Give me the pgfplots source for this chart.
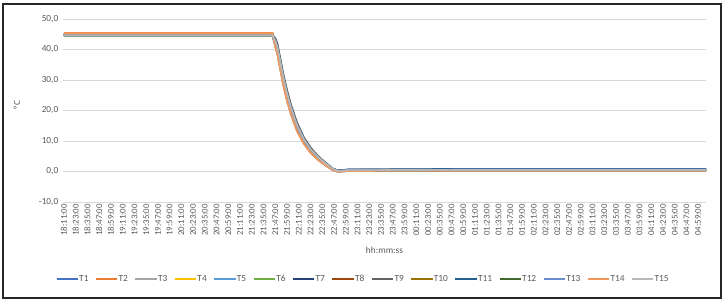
\documentclass[border=0pt]{standalone}
\usepackage{pgfplots}
\usepackage{pgfplotstable}
\pgfplotsset{compat=1.18}
\usepackage{fontspec}
\setmainfont{Carlito}
\definecolor{txt}{HTML}{595959}
\definecolor{grd}{HTML}{D9D9D9}
\definecolor{c1}{HTML}{4472C4}
\definecolor{c2}{HTML}{ED7D31}
\definecolor{c3}{HTML}{A5A5A5}
\definecolor{c4}{HTML}{FFC000}
\definecolor{c5}{HTML}{5B9BD5}
\definecolor{c6}{HTML}{70AD47}
\definecolor{c7}{HTML}{264478}
\definecolor{c8}{HTML}{9E480E}
\definecolor{c9}{HTML}{636363}
\definecolor{c10}{HTML}{997300}
\definecolor{c11}{HTML}{255E91}
\definecolor{c12}{HTML}{43682B}
\definecolor{c13}{HTML}{698ED0}
\definecolor{c14}{HTML}{F1975A}
\definecolor{c15}{HTML}{B7B7B7}
\pgfplotstableread{
t   T1   T2   T3   T4   T5   T6   T7   T8   T9   T10  T11  T12  T13  T14  T15
0   45.0 45.4 44.7 44.8 44.5 44.6 44.8 45.1 44.7 44.9 44.8 44.6 44.7 45.3 44.6
60  45.0 45.4 44.7 44.8 44.5 44.6 44.8 45.1 44.7 44.9 44.8 44.6 44.7 45.3 44.6
120 45.0 45.4 44.7 44.8 44.5 44.6 44.8 45.1 44.7 44.9 44.8 44.6 44.7 45.3 44.6
180 45.0 45.4 44.7 44.8 44.5 44.6 44.8 45.1 44.7 44.9 44.8 44.6 44.7 45.3 44.6
213 45.0 45.4 44.7 44.8 44.5 44.6 44.8 45.1 44.7 44.9 44.8 44.6 44.7 45.3 44.6
216 42.0 41.2 42.4 41.6 41.0 42.2 43.2 41.8 43.6 42.6 43.0 42.3 41.4 40.8 42.8
218 40.0 39.0 40.5 39.5 38.8 40.3 41.5 39.7 42.0 40.8 41.2 40.4 39.2 38.5 41.0
221 35.0 34.0 35.5 34.5 33.8 35.3 36.5 34.7 37.0 35.8 36.2 35.4 34.2 33.5 36.0
224 30.0 29.0 30.5 29.5 28.8 30.3 31.5 29.7 32.0 30.8 31.2 30.4 29.2 28.5 31.0
228 24.5 23.5 25.0 24.0 23.3 24.8 26.0 24.2 26.5 25.3 25.7 24.9 23.7 23.0 25.5
232 20.0 19.1 20.5 19.6 18.9 20.3 21.4 19.7 21.8 20.7 21.1 20.4 19.3 18.7 20.9
238 14.5 13.7 14.9 14.1 13.5 14.7 15.7 14.3 16.1 15.1 15.5 14.8 13.9 13.3 15.3
245 10.0 9.4  10.3 9.7  9.3  10.2 10.9 9.8  11.2 10.5 10.7 10.2 9.5  9.1  10.6
252 6.8  6.3  7.1  6.6  6.2  7.0  7.6  6.7  7.8  7.2  7.4  7.0  6.4  6.1  7.3
260 4.2  3.9  4.4  4.0  3.8  4.3  4.7  4.1  4.9  4.5  4.6  4.3  3.9  3.7  4.6
268 2.2  2.0  2.3  2.1  1.9  2.3  2.6  2.1  2.7  2.4  2.5  2.3  2.0  1.8  2.5
275 0.6  0.5  0.7  0.5  0.4  0.6  0.8  0.6  0.9  0.7  0.8  0.7  0.5  0.4  0.8
280 0.1  0.0  0.2  0.1  -0.1 0.1  0.3  0.1  0.3  0.2  0.3  0.1  0.0  -0.1 0.2
290 0.4  0.2  0.3  0.5  0.2  0.4  0.6  0.3  0.5  0.4  0.6  0.3  0.5  0.2  0.4
400 0.5  0.3  0.4  0.6  0.2  0.5  0.7  0.4  0.6  0.5  0.8  0.4  0.6  0.3  0.5
520 0.5  0.3  0.4  0.6  0.2  0.5  0.7  0.4  0.6  0.5  0.8  0.4  0.6  0.3  0.5
656 0.5  0.3  0.4  0.6  0.2  0.5  0.7  0.4  0.6  0.5  0.8  0.4  0.6  0.3  0.5
}\data
\begin{document}
\begin{tikzpicture}[x=1pt,y=1pt]
\path[use as bounding box] (-47.25pt,-75.75pt) rectangle ++(544.5pt,227.25pt);
\begin{axis}[
  at={(0,0)}, anchor=south west,
  scale only axis, width=482.25pt, height=137.25pt,
  xmin=-1, xmax=656, ymin=-10, ymax=50,
  ytick={-10,0,...,50},
  xtick={0,12,...,648},
  xticklabels={18:11:00,18:23:00,18:35:00,18:47:00,18:59:00,19:11:00,19:23:00,19:35:00,19:47:00,19:59:00,20:11:00,20:23:00,20:35:00,20:47:00,20:59:00,21:11:00,21:23:00,21:35:00,21:47:00,21:59:00,22:11:00,22:23:00,22:35:00,22:47:00,22:59:00,23:11:00,23:23:00,23:35:00,23:47:00,23:59:00,00:11:00,00:23:00,00:35:00,00:47:00,00:59:00,01:11:00,01:23:00,01:35:00,01:47:00,01:59:00,02:11:00,02:23:00,02:35:00,02:47:00,02:59:00,03:11:00,03:23:00,03:35:00,03:47:00,03:59:00,04:11:00,04:23:00,04:35:00,04:47:00,04:59:00},
  x tick label style={rotate=90, anchor=east, font=\fontsize{6.6}{7}\selectfont, text=txt, inner sep=1.5pt},
  y tick label style={font=\fontsize{7}{8}\selectfont, text=txt},
  yticklabel style={/pgf/number format/.cd, fixed, fixed zerofill, precision=1, use comma, assume math mode=true},
  ymajorgrids, grid style={grd, line width=0.6pt},
  axis line style={draw=none}, major tick length=0pt,
  xlabel={hh:mm:ss}, ylabel={°C},
  xlabel style={at={(axis description cs:0.5,-0.262)}, anchor=center, font=\fontsize{7}{8}\selectfont, text=txt},
  ylabel style={at={(axis description cs:-0.0716,0.53)}, anchor=center, rotate=0, font=\fontsize{7}{8}\selectfont, text=txt},
  legend columns=15,
  legend style={at={(axis description cs:0.467,-0.421)}, anchor=center, draw=none, font=\fontsize{7}{8}\selectfont, text=txt,
    /tikz/every even column/.append style={column sep=2.6pt},
    /tikz/every odd column/.append style={column sep=-2pt}},
  legend image code/.code={\draw[#1, line width=2pt] (0pt,0pt) -- (16pt,0pt);},
  every axis plot/.append style={line width=1.4pt},
]
\addplot[c1, no marks] table[x=t,y=T1]{\data}; \addlegendentry{T1}
\addplot[c2, no marks] table[x=t,y=T2]{\data}; \addlegendentry{T2}
\addplot[c3, no marks] table[x=t,y=T3]{\data}; \addlegendentry{T3}
\addplot[c4, no marks] table[x=t,y=T4]{\data}; \addlegendentry{T4}
\addplot[c5, no marks] table[x=t,y=T5]{\data}; \addlegendentry{T5}
\addplot[c6, no marks] table[x=t,y=T6]{\data}; \addlegendentry{T6}
\addplot[c7, no marks] table[x=t,y=T7]{\data}; \addlegendentry{T7}
\addplot[c8, no marks] table[x=t,y=T8]{\data}; \addlegendentry{T8}
\addplot[c9, no marks] table[x=t,y=T9]{\data}; \addlegendentry{T9}
\addplot[c10, no marks] table[x=t,y=T10]{\data}; \addlegendentry{T10}
\addplot[c11, no marks] table[x=t,y=T11]{\data}; \addlegendentry{T11}
\addplot[c12, no marks] table[x=t,y=T12]{\data}; \addlegendentry{T12}
\addplot[c13, no marks] table[x=t,y=T13]{\data}; \addlegendentry{T13}
\addplot[c14, no marks] table[x=t,y=T14]{\data}; \addlegendentry{T14}
\addplot[c15, no marks] table[x=t,y=T15]{\data}; \addlegendentry{T15}
\end{axis}
\draw[line width=1.5pt, black!85] (-45pt,-72pt) rectangle (493.5pt,148.5pt);
\end{tikzpicture}
\end{document}
